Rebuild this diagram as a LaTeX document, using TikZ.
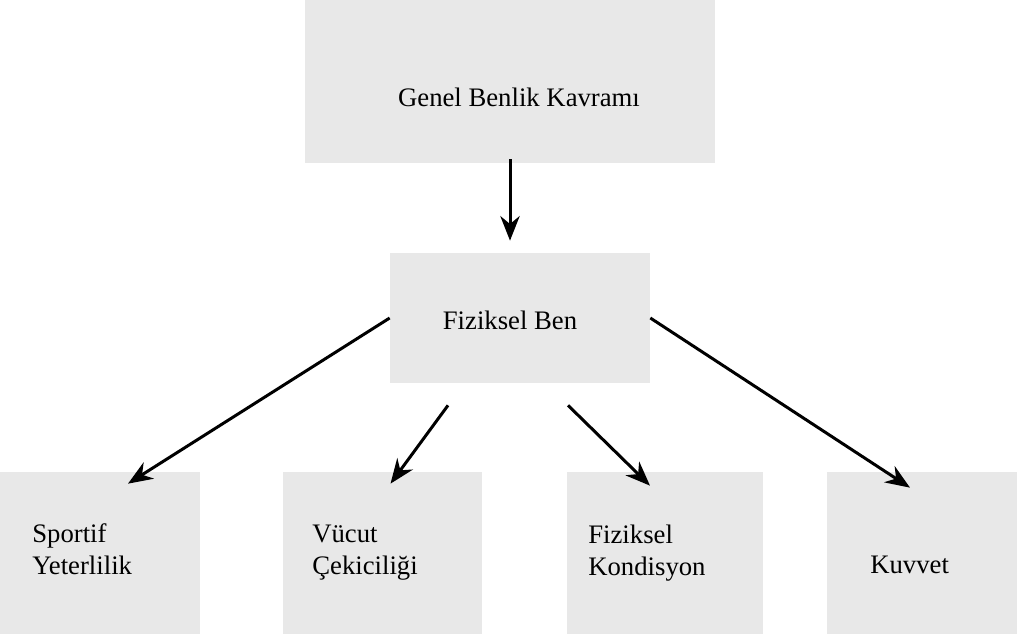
\documentclass[tikz,border=0pt]{standalone}
\usepackage{fontspec}
\setmainfont{Liberation Serif}
\usetikzlibrary{arrows.meta, positioning, calc}
\begin{document}
\begin{tikzpicture}[
    x=0.02cm, y=-0.02cm,
    benbox/.style={rectangle, fill=black!9, draw=none, inner sep=0pt},
    bentext/.style={font=\fontsize{15.2}{18.2}\selectfont, inner sep=0pt, align=left},
    arrow/.style={-{Stealth[length=14pt, width=11pt]}, line width=1.7pt},
  ]
  \useasboundingbox (0,0) rectangle (1017,634);

  % boxes
  \node[benbox, minimum width=8.2cm, minimum height=3.26cm] (gbk) at (510,81.5) {};
  \node[benbox, minimum width=5.2cm, minimum height=2.6cm] (fb) at (520,318) {};
  \node[benbox, minimum width=4cm, minimum height=3.24cm] (sy) at (100,553) {};
  \node[benbox, minimum width=3.98cm, minimum height=3.24cm] (vc) at (382.5,553) {};
  \node[benbox, minimum width=3.92cm, minimum height=3.24cm] (fk) at (665,553) {};
  \node[benbox, minimum width=3.8cm, minimum height=3.24cm] (kv) at (922,553) {};

  % texts
  \node[bentext] (gbk-t) at (519,97) {Genel Benlik Kavramı};
  \node[bentext] (fb-t) at (510,320) {Fiziksel Ben};
  \node[bentext, anchor=west] (sy-t) at (32,549) {Sportif\\Yeterlilik};
  \node[bentext, anchor=west] (vc-t) at (312,553) {Vücut\\Çekiciliği};
  \node[bentext, anchor=west] (fk-t) at (588,553) {Fiziksel\\Kondisyon};
  \node[bentext, anchor=west] (kv-t) at (870,565) {Kuvvet};

  % arrows
  \draw[arrow] ([yshift=0.08cm] gbk.south) -- ($(fb.north)+(-10,-12)$);
  \draw[arrow] (fb.west) -- ($(sy.north)+(28,12)$);
  \draw[arrow] ($(fb.south)+(-72,22)$) -- ($(vc.north)+(8,12)$);
  \draw[arrow] ($(fb.south)+(48,22)$) -- ($(fk.north)+(-15,14)$);
  \draw[arrow] (fb.east) -- ($(kv.north)+(-12,16)$);
\end{tikzpicture}
\end{document}
